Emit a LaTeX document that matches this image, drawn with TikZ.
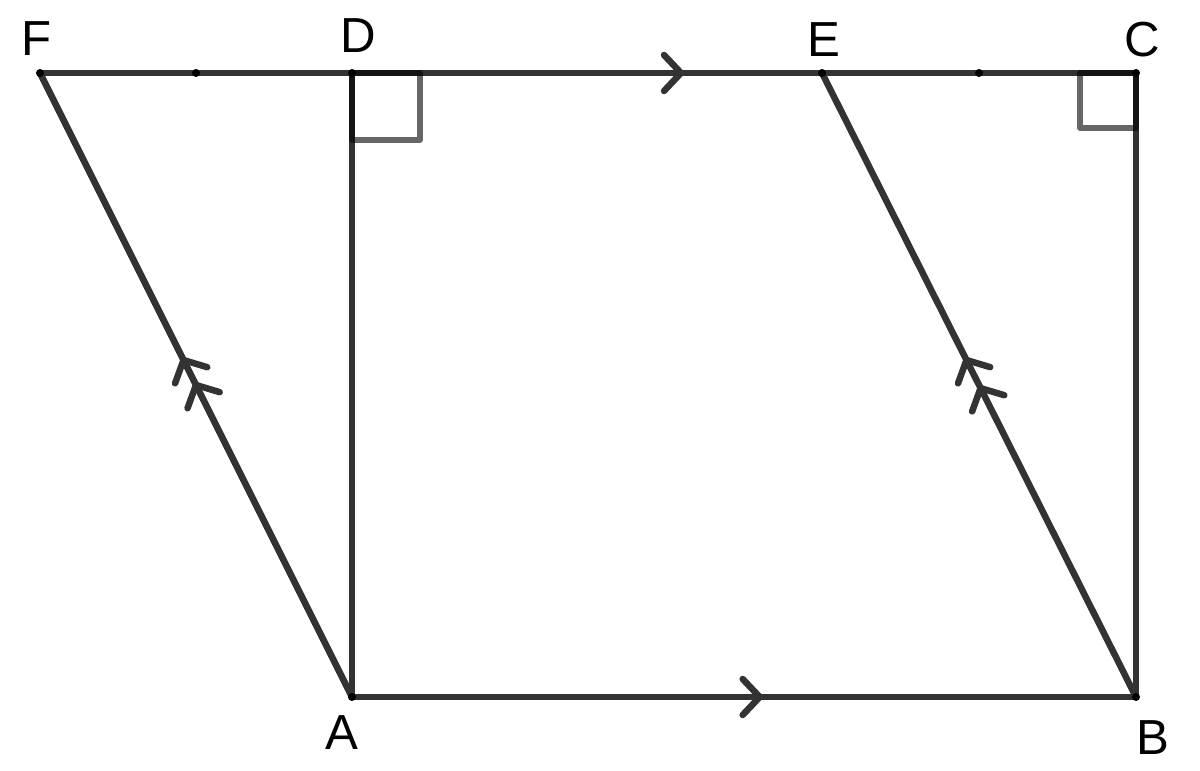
\documentclass[tikz,border=0pt]{standalone}
\usepackage{fontspec}
\setmainfont{Liberation Sans}
\usetikzlibrary{calc,decorations.markings}

\begin{document}
\begin{tikzpicture}[x=0.01cm, y=-0.01cm,
	side/.style = {draw=black!80, line width=0.065cm, line cap=round},
	pt/.style = {circle, fill=black, inner sep=0pt, minimum size=0.08cm},
	lbl/.style = {font=\fontsize{14}{16}\selectfont, inner sep=0pt},
	rmark/.style = {draw=black, draw opacity=0.6, line width=0.055cm, line join=round},
	chev/.style = {postaction={decorate, decoration={markings,
		mark=at position #1 with {\draw[black!80, line width=0.065cm, line cap=round, line join=round] (-17,-18) -- (0,0) -- (-17,18);}}}}]
	\useasboundingbox (0,0) rectangle (1200,771);
	% points
	\coordinate (F) at (40,73);
	\coordinate (D) at (352,73);
	\coordinate (E) at (822,73);
	\coordinate (C) at (1136,73);
	\coordinate (A) at (352,697);
	\coordinate (B) at (1136,697);
	\coordinate (M1) at ($(F)!0.5!(D)$);
	\coordinate (M2) at ($(E)!0.5!(C)$);
	% sides
	\draw[side] (F) -- (D);
	\draw[side, chev=0.70] (D) -- (E);
	\draw[side] (E) -- (C);
	\draw[side] (D) -- (A);
	\draw[side, chev=0.52] (A) -- (B);
	\draw[side] (B) -- (C);
	\draw[side, chev=0.50, chev=0.54] (A) -- (F);
	\draw[side, chev=0.495, chev=0.54] (B) -- (E);
	% right angles
	\draw[rmark] (D) rectangle ++(68,67);
	\draw[rmark] (C) rectangle ++(-56,55);
	% dots
	\foreach \p in {F,D,E,C,A,B,M1,M2}
		\node[pt] at (\p) {};
	% labels
	\node[lbl] (lF) at (37,39) {F};
	\node[lbl] (lD) at (358,36) {D};
	\node[lbl] (lE) at (824,40) {E};
	\node[lbl] (lC) at (1142,40) {C};
	\node[lbl] (lA) at (342,733) {A};
	\node[lbl] (lB) at (1153,738) {B};
\end{tikzpicture}
\end{document}
